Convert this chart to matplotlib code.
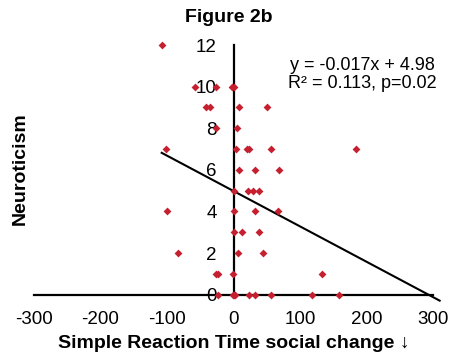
import matplotlib
matplotlib.use("Agg")
import matplotlib.pyplot as plt
import numpy as np

plt.rcParams['font.family'] = ['Liberation Sans', 'DejaVu Sans']
plt.rcParams['axes.unicode_minus'] = False

rt_change = [-108, -58, -27, -2, 1, -42, -35, 8, 51, -27, 6, -101, 4, 20, 24, 57, 184,
             9, 32, 68, 0, 22, 29, 38, -100, 0, 32, 67, 1, 13, 39, -83, 7, 44,
             -26, -23, -1, 133, -23, -1, 1, 3, 23, 33, 57, 118, 158]
neuroticism = [12, 10, 10, 10, 10, 9, 9, 9, 9, 8, 8, 7, 7, 7, 7, 7, 7,
               6, 6, 6, 5, 5, 5, 5, 4, 4, 4, 4, 3, 3, 3, 2, 2, 2,
               1, 1, 1, 1, 0, 0, 0, 0, 0, 0, 0, 0, 0]
trend_slope = -0.017
trend_intercept = 4.98
trend_end = 310
x_ticks = [-300, -200, -100, 0, 100, 200, 300]
y_ticks = [0, 2, 4, 6, 8, 10, 12]

fig = plt.figure(figsize=(4.55, 3.58), dpi=100)
ax = fig.add_axes([34/455, (358-294.6)/358, 399/455, 249.6/358])
ax.set_xlim(-300, 300)
ax.set_ylim(0, 12)

ax.scatter(rt_change, neuroticism, marker='D', s=16, color='#C42030', zorder=3,
           linewidths=0, clip_on=False)
tx = np.array([min(rt_change), trend_end])
ax.plot(tx, trend_slope * tx + trend_intercept, color='black', lw=1.5, clip_on=False, zorder=2)

for s in ['top', 'right']:
    ax.spines[s].set_visible(False)
ax.spines['left'].set_position(('data', 0))
ax.spines['left'].set_linewidth(1.6)
ax.spines['bottom'].set_linewidth(1.6)
ax.spines['left'].set_zorder(1)

ax.set_xticks(x_ticks)
ax.set_yticks(y_ticks)
ax.tick_params(axis='both', length=0, labelsize=13.5)
ax.tick_params(axis='x', pad=12)
ax.tick_params(axis='y', pad=12)

fig.text(229/455, 1 - 17/358, 'Figure 2b', ha='center', va='center', fontsize=14, fontweight='bold')
fig.text(20/455, 1 - 169/358, 'Neuroticism', ha='center', va='center', rotation=90,
         fontsize=14, fontweight='bold')
fig.text(234/455, 1 - 343/358, 'Simple Reaction Time social change \u2193', ha='center', va='center',
         fontsize=14, fontweight='bold')
fig.text(362/455, 1 - 66/358, 'y = -0.017x + 4.98', ha='center', va='center', fontsize=13)
fig.text(362/455, 1 - 84/358, 'R\u00b2 = 0.113, p=0.02', ha='center', va='center', fontsize=13)

fig.savefig('out.png', dpi=100)
